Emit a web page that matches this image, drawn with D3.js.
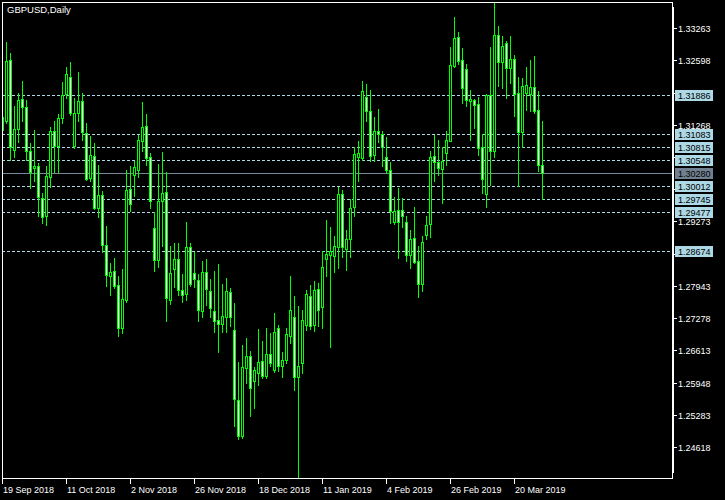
<!DOCTYPE html>
<html><head><meta charset="utf-8">
<script src="https://cdn.jsdelivr.net/npm/d3@7"></script>
<style>html,body{margin:0;padding:0;background:#000;}svg{display:block;}</style>
</head><body>
<svg id="c" width="725" height="500"></svg>
<script>
const title = "GBPUSD,Daily";
const dates = [
"2018-09-19","2018-09-20","2018-09-21","2018-09-24","2018-09-25","2018-09-26","2018-09-27","2018-09-28","2018-10-01","2018-10-02",
"2018-10-03","2018-10-04","2018-10-05","2018-10-08","2018-10-09","2018-10-10","2018-10-11","2018-10-12","2018-10-15","2018-10-16",
"2018-10-17","2018-10-18","2018-10-19","2018-10-22","2018-10-23","2018-10-24","2018-10-25","2018-10-26","2018-10-29","2018-10-30",
"2018-10-31","2018-11-01","2018-11-02","2018-11-05","2018-11-06","2018-11-07","2018-11-08","2018-11-09","2018-11-12","2018-11-13",
"2018-11-14","2018-11-15","2018-11-16","2018-11-19","2018-11-20","2018-11-21","2018-11-22","2018-11-23","2018-11-26","2018-11-27",
"2018-11-28","2018-11-29","2018-11-30","2018-12-03","2018-12-04","2018-12-05","2018-12-06","2018-12-07","2018-12-10","2018-12-11",
"2018-12-12","2018-12-13","2018-12-14","2018-12-17","2018-12-18","2018-12-19","2018-12-20","2018-12-21","2018-12-24","2018-12-26",
"2018-12-27","2018-12-28","2018-12-31","2019-01-02","2019-01-03","2019-01-04","2019-01-07","2019-01-08","2019-01-09","2019-01-10",
"2019-01-11","2019-01-14","2019-01-15","2019-01-16","2019-01-17","2019-01-18","2019-01-21","2019-01-22","2019-01-23","2019-01-24",
"2019-01-25","2019-01-28","2019-01-29","2019-01-30","2019-01-31","2019-02-01","2019-02-04","2019-02-05","2019-02-06","2019-02-07",
"2019-02-08","2019-02-11","2019-02-12","2019-02-13","2019-02-14","2019-02-15","2019-02-18","2019-02-19","2019-02-20","2019-02-21",
"2019-02-22","2019-02-25","2019-02-26","2019-02-27","2019-02-28","2019-03-01","2019-03-04","2019-03-05","2019-03-06","2019-03-07",
"2019-03-08","2019-03-11","2019-03-12","2019-03-13","2019-03-14","2019-03-15","2019-03-18","2019-03-19","2019-03-20","2019-03-21",
"2019-03-22","2019-03-25","2019-03-26","2019-03-27","2019-03-28","2019-03-29"];
const open = [
1.3116,1.3134,1.3261,1.3074,1.3118,1.3180,1.3163,1.3072,1.3037,1.3041,
1.2976,1.2938,1.3020,1.3113,1.3084,1.3141,1.3190,1.3225,1.3083,1.3151,
1.3176,1.3110,1.3017,1.3063,1.2955,1.2982,1.2879,1.2814,1.2826,1.2797,
1.2707,1.2766,1.2995,1.3024,1.3034,1.3094,1.3125,1.3060,1.2914,1.2847,
1.2969,1.2988,1.2766,1.2830,1.2850,1.2786,1.2777,1.2874,1.2822,1.2807,
1.2742,1.2823,1.2783,1.2742,1.2724,1.2716,1.2731,1.2782,1.2704,1.2559,
1.2485,1.2625,1.2649,1.2599,1.2614,1.2640,1.2609,1.2654,1.2620,1.2707,
1.2630,1.2642,1.2691,1.2730,1.2606,1.2636,1.2714,1.2773,1.2713,1.2788,
1.2751,1.2850,1.2859,1.2857,1.2874,1.2984,1.2870,1.2891,1.2957,1.3061,
1.3059,1.3184,1.3156,1.3065,1.3114,1.3108,1.3060,1.3034,1.2927,1.2950,
1.2950,1.2927,1.2859,1.2893,1.2846,1.2798,1.2900,1.2922,1.3063,1.3050,
1.3035,1.3068,1.3094,1.3249,1.3308,1.3261,1.3242,1.3175,1.3178,1.3170,
1.3080,1.2984,1.3189,1.3072,1.3312,1.3257,1.3295,1.3244,1.3263,1.3192,
1.3111,1.3193,1.3191,1.3205,1.3158,1.3044];
const high = [
1.3162,1.3297,1.3275,1.3166,1.3192,1.3218,1.3178,1.3090,1.3116,1.3048,
1.2987,1.3041,1.3123,1.3134,1.3149,1.3216,1.3246,1.3257,1.3182,1.3236,
1.3192,1.3130,1.3104,1.3089,1.3044,1.2991,1.2918,1.2841,1.2852,1.2814,
1.2830,1.3034,1.3041,1.3053,1.3106,1.3174,1.3149,1.3068,1.2946,1.3046,
1.3070,1.3029,1.2877,1.2883,1.2883,1.2819,1.2927,1.2883,1.2864,1.2819,
1.2846,1.2850,1.2809,1.2826,1.2840,1.2799,1.2811,1.2790,1.2759,1.2638,
1.2673,1.2687,1.2661,1.2628,1.2706,1.2680,1.2707,1.2697,1.2738,1.2714,
1.2659,1.2707,1.2815,1.2774,1.2753,1.2744,1.2786,1.2797,1.2805,1.2800,
1.2867,1.2931,1.2915,1.2898,1.2999,1.2993,1.2910,1.2973,1.3081,1.3094,
1.3218,1.3211,1.3199,1.3143,1.3159,1.3114,1.3101,1.3050,1.2978,1.2997,
1.2976,1.2939,1.2910,1.2958,1.2877,1.2898,1.2939,1.3073,1.3106,1.3096,
1.3080,1.3114,1.3288,1.3350,1.3318,1.3286,1.3253,1.3199,1.3180,1.3185,
1.3108,1.3190,1.3288,1.3379,1.3331,1.3309,1.3300,1.3310,1.3271,1.3226,
1.3223,1.3246,1.3261,1.3269,1.3197,1.3135];
const low = [
1.3104,1.3131,1.3055,1.3061,1.3092,1.3135,1.3055,1.2997,1.3010,1.2939,
1.2924,1.2920,1.2999,1.3030,1.3030,1.3130,1.3182,1.3147,1.3079,1.3135,
1.3096,1.3013,1.3010,1.2953,1.2936,1.2865,1.2795,1.2775,1.2790,1.2692,
1.2698,1.2762,1.2948,1.2980,1.3020,1.3072,1.3043,1.2955,1.2826,1.2834,
1.2877,1.2721,1.2758,1.2793,1.2775,1.2762,1.2766,1.2795,1.2793,1.2723,
1.2731,1.2755,1.2731,1.2699,1.2657,1.2699,1.2700,1.2711,1.2506,1.2478,
1.2480,1.2594,1.2526,1.2542,1.2590,1.2604,1.2604,1.2630,1.2617,1.2618,
1.2607,1.2635,1.2676,1.2580,1.2396,1.2614,1.2704,1.2705,1.2702,1.2712,
1.2707,1.2815,1.2669,1.2824,1.2831,1.2855,1.2828,1.2854,1.2939,1.3010,
1.3055,1.3135,1.3053,1.3053,1.3092,1.3041,1.3027,1.2924,1.2923,1.2852,
1.2916,1.2845,1.2831,1.2842,1.2771,1.2783,1.2891,1.2895,1.3010,1.3024,
1.2966,1.3044,1.3093,1.3247,1.3252,1.3172,1.3165,1.3096,1.3121,1.3065,
1.2987,1.2958,1.3003,1.3060,1.3206,1.3203,1.3183,1.3213,1.3144,1.3001,
1.3082,1.3158,1.3156,1.3152,1.3032,1.2973];
const close = [
1.3143,1.3259,1.3080,1.3119,1.3178,1.3163,1.3072,1.3029,1.3042,1.2978,
1.2936,1.3022,1.3113,1.3084,1.3141,1.3189,1.3232,1.3152,1.3151,1.3176,
1.3111,1.3015,1.3065,1.2955,1.2982,1.2878,1.2816,1.2823,1.2795,1.2707,
1.2768,1.2993,1.2963,1.3040,1.3096,1.3122,1.3059,1.2969,1.2847,1.2969,
1.2986,1.2769,1.2821,1.2850,1.2786,1.2775,1.2874,1.2799,1.2808,1.2744,
1.2823,1.2788,1.2749,1.2723,1.2716,1.2733,1.2783,1.2731,1.2561,1.2485,
1.2627,1.2649,1.2584,1.2620,1.2637,1.2609,1.2654,1.2636,1.2699,1.2630,
1.2642,1.2696,1.2745,1.2606,1.2630,1.2724,1.2778,1.2711,1.2785,1.2745,
1.2833,1.2860,1.2867,1.2876,1.2984,1.2874,1.2891,1.2955,1.3066,1.3068,
1.3197,1.3156,1.3063,1.3114,1.3108,1.3081,1.3034,1.2948,1.2948,1.2927,
1.2938,1.2859,1.2891,1.2843,1.2798,1.2885,1.2920,1.3061,1.3050,1.3037,
1.3053,1.3096,1.3251,1.3306,1.3259,1.3203,1.3177,1.3180,1.3167,1.3079,
1.3015,1.3189,1.3072,1.3312,1.3257,1.3290,1.3244,1.3263,1.3191,1.3111,
1.3207,1.3209,1.3205,1.3156,1.3043,1.3028];
const tickDates = ["2018-09-19","2018-10-11","2018-11-02","2018-11-26","2018-12-18","2019-01-11","2019-02-04","2019-02-26","2019-03-20"];
const tickLabels = ["19 Sep 2018","11 Oct 2018","2 Nov 2018","26 Nov 2018","18 Dec 2018","11 Jan 2019","4 Feb 2019","26 Feb 2019","20 Mar 2019"];
const priceTicks = [1.33263,1.32598,1.31933,1.31268,1.30603,1.29938,1.29273,1.28608,1.27943,1.27278,1.26613,1.25948,1.25283,1.24618];
const levels = [1.31886,1.31083,1.30815,1.30548,1.30012,1.29745,1.29477,1.28674];
const lastPrice = 1.30280;

const W = 725, H = 500;
const FONT = "'Liberation Sans', Arial, sans-serif";
const svg = d3.select("#c");
svg.append("rect").attr("width", W).attr("height", H).attr("fill", "#000");

const x = d3.scaleBand().domain(dates).range([0.5, 0.5 + 4 * dates.length]);
const cx = d => x(d) + x.bandwidth() / 2;
const y = d3.scaleLinear().domain([1.24618, 1.33263]).range([447.3, 28.3]);
const row = v => Math.round(y(v) - 0.2);
const py = v => row(v) + 0.5;

svg.append("clipPath").attr("id", "plot").append("rect")
  .attr("x", 3).attr("y", 3).attr("width", 669).attr("height", 475);

const plot = svg.append("g").attr("clip-path", "url(#plot)");

// level lines
plot.selectAll("line.lvl").data(levels).join("line").attr("class", "lvl")
  .attr("x1", 2).attr("x2", 672).attr("y1", py).attr("y2", py)
  .attr("stroke", "#ADD8E6").attr("stroke-width", 1).attr("stroke-dasharray", "3,2");
plot.append("line").attr("x1", 2).attr("x2", 672)
  .attr("y1", py(lastPrice)).attr("y2", py(lastPrice))
  .attr("stroke", "#778899").attr("stroke-width", 1);

const bars = dates.map((d, i) => ({d, o: open[i], h: high[i], l: low[i], c: close[i]}));
const g = plot.append("g");
g.selectAll("line.wick").data(bars).join("line").attr("class", "wick")
  .attr("x1", b => cx(b.d)).attr("x2", b => cx(b.d))
  .attr("y1", b => row(b.h)).attr("y2", b => row(b.l) + 1)
  .attr("stroke", "#00FF00").attr("stroke-width", 1);
g.selectAll("rect.body").data(bars).join("rect").attr("class", "body")
  .attr("x", b => cx(b.d) - 1)
  .attr("width", 2)
  .attr("y", b => py(Math.max(b.o, b.c)))
  .attr("height", b => Math.max(0, row(Math.min(b.o, b.c)) - row(Math.max(b.o, b.c))))
  .attr("fill", b => b.c < b.o ? "#FFFFFF" : "#000000")
  .attr("stroke", "#00FF00").attr("stroke-width", 1);

// frame
svg.append("rect").attr("x", 2.5).attr("y", 2.5).attr("width", 670).attr("height", 476)
  .attr("fill", "none").attr("stroke", "#fff").attr("stroke-width", 1);
svg.append("rect").attr("x", 673).attr("y", 7).attr("width", 1).attr("height", 466).attr("fill", "#fff");

// price axis (labels fully hidden behind a level box are not drawn, as in the reference)
const allLevels = levels.map(v => ({v, bg: "#ADD8E6"})).concat([{v: lastPrice, bg: "#708090"}]);
const hidden = v => allLevels.some(l => Math.abs(row(l.v) - row(v)) <= 3);
const yAxis = svg.append("g");
yAxis.selectAll("line").data(priceTicks).join("line")
  .attr("x1", 674).attr("x2", 677).attr("y1", py).attr("y2", py)
  .attr("stroke", "#fff");
yAxis.selectAll("text").data(priceTicks.filter(v => !hidden(v))).join("text")
  .attr("x", 678).attr("y", v => row(v) + 4)
  .attr("fill", "#fff").attr("font-family", FONT).attr("font-size", 9)
  .text(v => v.toFixed(5));

// time axis
const xAxis = svg.append("g");
xAxis.selectAll("line").data(tickDates).join("line")
  .attr("x1", cx).attr("x2", cx).attr("y1", 479).attr("y2", 484)
  .attr("stroke", "#fff");
xAxis.selectAll("text").data(tickDates).join("text")
  .attr("x", d => cx(d) + 0.5).attr("y", 492.5)
  .attr("fill", "#fff").attr("font-family", FONT).attr("font-size", 9)
  .text((d, i) => tickLabels[i]);

// level labels
const lab = svg.append("g");
lab.selectAll("rect").data(allLevels).join("rect")
  .attr("x", 675).attr("y", l => row(l.v) - 5).attr("width", 38).attr("height", 11)
  .attr("fill", l => l.bg);
lab.selectAll("text").data(allLevels).join("text")
  .attr("x", 678).attr("y", l => row(l.v) + 4)
  .attr("fill", "#000").attr("font-family", FONT).attr("font-size", 9)
  .text(l => l.v.toFixed(5));

// title
svg.append("text").attr("x", 7).attr("y", 12.5)
  .attr("fill", "#fff").attr("font-family", FONT).attr("font-size", 9.5)
  .text(title);
</script>
</body></html>
